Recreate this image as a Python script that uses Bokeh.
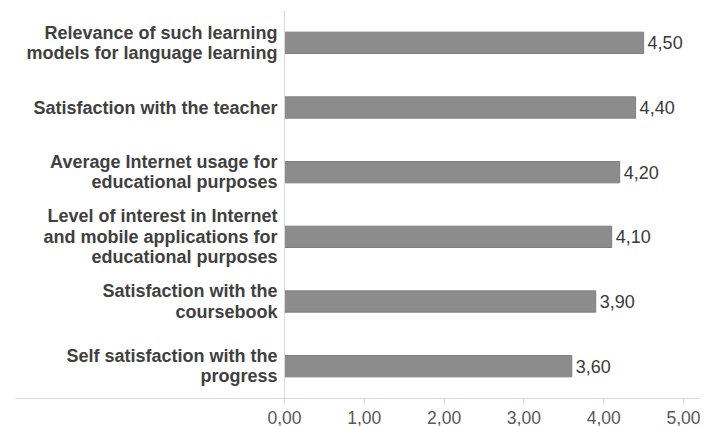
from bokeh.plotting import figure
from bokeh.models import ColumnDataSource, FactorRange, Range1d, FixedTicker, Span
from bokeh.core.properties import value
from bokeh.embed import file_html
from bokeh.resources import INLINE

categories = [
    "Relevance of such learning\nmodels for language learning",
    "Satisfaction with the teacher",
    "Average Internet usage for\neducational purposes",
    "Level of interest in Internet\nand mobile applications for\neducational purposes",
    "Satisfaction with the\ncoursebook",
    "Self satisfaction with the\nprogress",
]
scores = [4.50, 4.40, 4.20, 4.10, 3.90, 3.60]
score_labels = ["4,50", "4,40", "4,20", "4,10", "3,90", "3,60"]
tick_values = [0, 1, 2, 3, 4, 5]
tick_labels = ["0,00", "1,00", "2,00", "3,00", "4,00", "5,00"]

src = ColumnDataSource(dict(cat=categories, val=scores, lab=score_labels,
                            zero=[0] * len(categories)))

p = figure(width=705, height=426, output_backend="svg", toolbar_location=None,
           y_range=FactorRange(factors=list(reversed(categories))),
           x_range=Range1d(-3.371, 5.213),
           min_border_left=15, min_border_right=5, min_border_top=10, min_border_bottom=0)
p.outline_line_color = None
p.xgrid.visible = False
p.ygrid.visible = False
p.yaxis.visible = False

p.hbar(y="cat", right="val", left=0, height=0.33, source=src,
       fill_color="#8c8c8c", line_color="#7f7f7f", line_width=1)

p.text(x="val", y="cat", text="lab", source=src, x_offset=4,
       text_align="left", text_baseline="middle", text_font=value("Liberation Sans"),
       text_font_size="18px", text_color="#3a3a3a")

p.text(x="zero", y="cat", text="cat", source=src, x_offset=-7,
       text_align="right", text_baseline="middle", text_font=value("Liberation Sans"),
       text_font_style="bold", text_font_size="18px", text_color="#404040",
       text_line_height=1.03)

p.add_layout(Span(location=0, dimension="height", line_color="#d9d9d9", line_width=1))

ax = p.xaxis[0]
ax.ticker = FixedTicker(ticks=tick_values)
ax.major_label_overrides = {t: l for t, l in zip(tick_values, tick_labels)}
ax.axis_line_color = "#d9d9d9"
ax.major_tick_line_color = "#d9d9d9"
ax.major_tick_out = 6
ax.major_tick_in = 0
ax.minor_tick_line_color = None
ax.major_label_standoff = 6
ax.major_label_text_font = "Liberation Sans"
ax.major_label_text_font_size = "17.5px"
ax.major_label_text_color = "#595959"

open("out.html", "w").write(file_html(p, INLINE))
